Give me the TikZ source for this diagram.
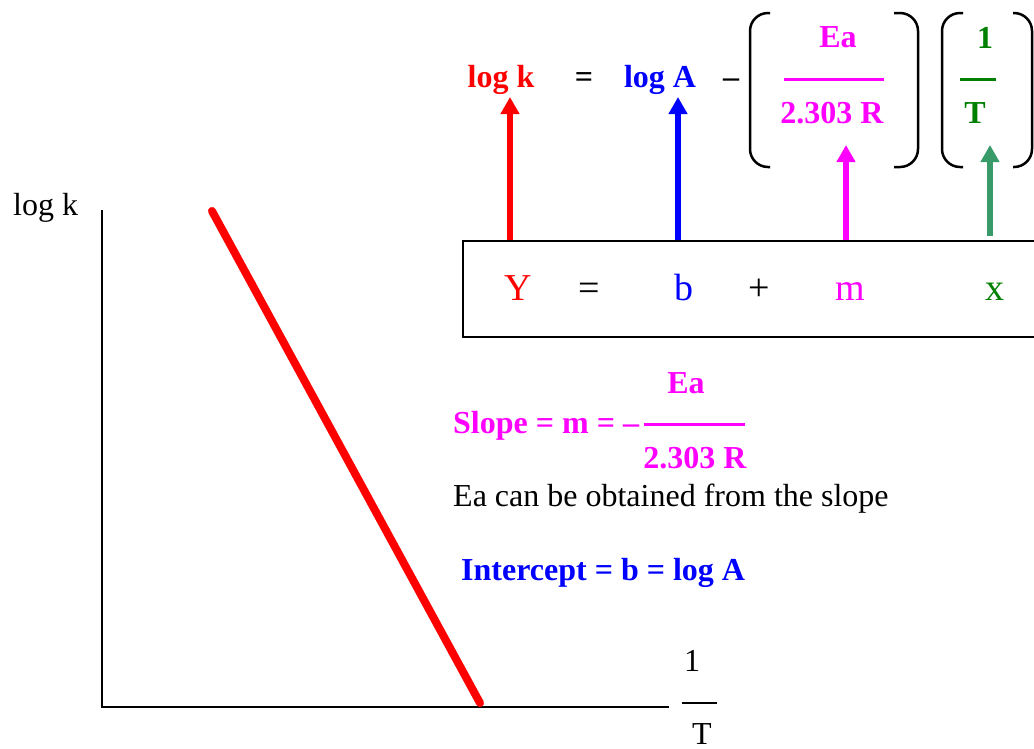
\documentclass[tikz,border=0pt]{standalone}
\usepackage{fontspec}
\setmainfont{Liberation Serif}
\usetikzlibrary{arrows.meta}
\definecolor{mag}{RGB}{255,0,255}
\definecolor{dgreen}{RGB}{0,128,0}
\definecolor{agreen}{RGB}{56,154,104}
\tikzset{
  txt/.style={inner sep=0pt, anchor=base, font=\fontsize{32}{38}\selectfont},
  btxt/.style={inner sep=0pt, anchor=base, font=\fontsize{32}{38}\selectfont\bfseries},
  boxtxt/.style={inner sep=0pt, anchor=base, font=\fontsize{38}{44}\selectfont},
  uparrow/.style={line width=6pt, -{Triangle[width=18pt,length=17pt]}},
  paren/.style={line width=2.5pt, rounded corners=18pt},
  fracline/.style={line width=3pt}
}
\begin{document}
\begin{tikzpicture}[x=1pt,y=-1pt]
\clip (0,0) rectangle (1034,748);
\fill[white] (0,0) rectangle (1034,748);
% axes
\coordinate (origin) at (102,707);
\coordinate (ytop) at (102,210);
\coordinate (xend) at (669,707);
\draw[line width=2pt] (ytop) -- (origin) -- (xend);
\node[txt, anchor=base west] (ylabel) at (13,215) {log k};
\node[txt] (xone) at (692,671) {1};
\node[txt] (xT) at (702,744) {T};
\draw[line width=2pt] (682,703) -- (717,703);
% red plot line
\coordinate (ls) at (212,211);
\coordinate (le) at (480,703);
\draw[red, line width=8pt, line cap=round] (ls) -- (le);
% top equation
\node[btxt, text=red] (logk) at (501,87) {log k};
\node[btxt] (eqtop) at (584,87) {=};
\node[btxt, text=blue] (logA) at (660,87) {log A};
\node[btxt] (minus) at (731,87) {–};
\draw[paren] (770,13) -- (750,13) -- (750,167) -- (770,167);
\draw[paren] (894,13) -- (918,13) -- (918,167) -- (894,167);
\node[btxt, text=mag] (Ea) at (838,47) {Ea};
\draw[fracline, mag] (784,79) -- (884,79);
\node[btxt, text=mag] (R) at (832,123) {2.303 R};
\draw[paren] (963,13) -- (942,13) -- (942,167) -- (963,167);
\draw[paren] (1013,13) -- (1032,13) -- (1032,167) -- (1013,167);
\node[btxt, text=dgreen] (one) at (985,48) {1};
\draw[fracline, dgreen] (960,79) -- (996,79);
\node[btxt, text=dgreen] (T) at (975,123) {T};
% box
\node[draw, line width=2pt, anchor=north west, minimum width=600pt, minimum height=96pt, inner sep=0pt] (box) at (462,240) {};
\node[boxtxt, text=red] (Y) at (518,300) {Y};
\node[boxtxt] (eqbox) at (589,300) {=};
\node[boxtxt, text=blue] (b) at (684,300) {b};
\node[boxtxt] (plus) at (759,300) {+};
\node[boxtxt, text=mag] (m) at (850,300) {m};
\node[boxtxt, text=dgreen] (x) at (995,300) {x};
% arrows
\coordinate (tipk) at (510,97);
\coordinate (tipA) at (678,97);
\coordinate (tipR) at (846,145);
\coordinate (tipT) at (990,145);
\draw[uparrow, red] (tipk |- box.north) -- (tipk);
\draw[uparrow, blue] (tipA |- box.north) -- (tipA);
\draw[uparrow, mag] (tipR |- box.north) -- (tipR);
\coordinate (gbase) at (990,236);
\draw[uparrow, agreen] (gbase) -- (tipT);
% slope
\node[btxt, text=mag, anchor=base west] (slope) at (453,433) {Slope = m = –};
\node[btxt, text=mag] (sEa) at (686,393) {Ea};
\draw[fracline, mag] (644,424) -- (745,424);
\node[btxt, text=mag] (sR) at (695,468) {2.303 R};
\node[txt, anchor=base west] (obtain) at (453,506) {Ea can be obtained from the slope};
\node[btxt, text=blue, anchor=base west] (icpt) at (461,580) {Intercept = b = log A};
\end{tikzpicture}
\end{document}
